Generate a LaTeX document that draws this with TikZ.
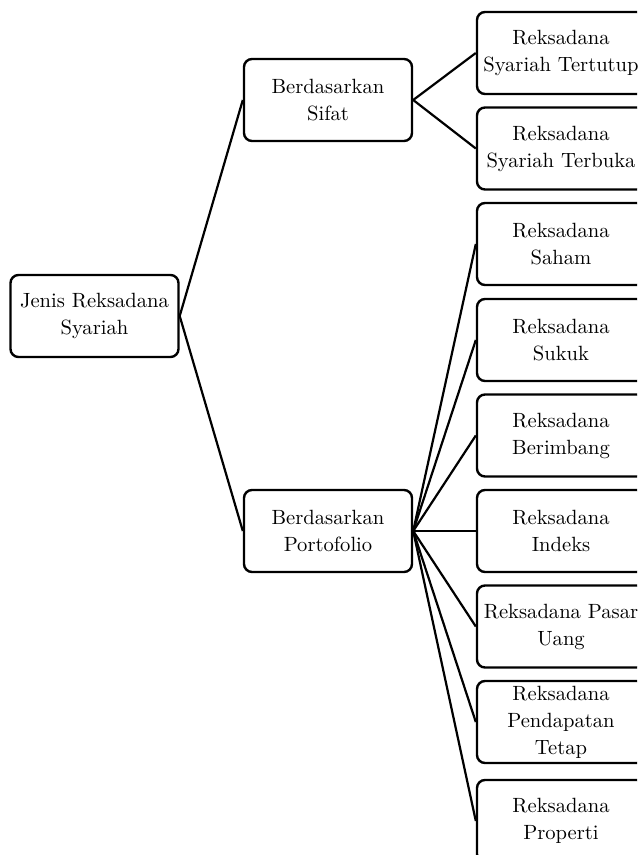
\documentclass[tikz,border=0pt]{standalone}
\usepackage{tikz}
\usetikzlibrary{positioning, calc}

\begin{document}
\begin{tikzpicture}[x=0.5pt, y=-0.5pt,
	kotak/.style={draw, line width=1.2pt, rounded corners=4pt, minimum width=84pt,
		minimum height=41pt, inner sep=2pt, align=center,
		font=\fontsize{10.3}{13.5}\selectfont},
	garis/.style={line width=1.1pt}]
	\useasboundingbox (0,0) rectangle (637,855);
	\clip (0,0) rectangle (637,855);
	% akar dan dua cabang
	\node[kotak] (jenis) at (94.5,316) {Jenis Reksadana\\Syariah};
	\node[kotak] (sifat) at (328,100) {Berdasarkan\\Sifat};
	\node[kotak] (porto) at (328,531) {Berdasarkan\\Portofolio};
	\draw[garis] (jenis.east) -- (sifat.west);
	\draw[garis] (jenis.east) -- (porto.west);
	% berdasarkan sifat
	\node[kotak] (tertutup) at (561,53) {Reksadana\\Syariah Tertutup};
	\node[kotak] (terbuka) at (561,148.5) {Reksadana\\Syariah Terbuka};
	\draw[garis] (sifat.east) -- (tertutup.west);
	\draw[garis] (sifat.east) -- (terbuka.west);
	% berdasarkan portofolio
	\foreach \nama/\y/\isi in {saham/244/{Reksadana\\Saham},
		sukuk/340/{Reksadana\\Sukuk},
		berimbang/435.5/{Reksadana\\Berimbang},
		indeks/531/{Reksadana\\Indeks},
		pasar/626.5/{Reksadana Pasar\\Uang},
		tetap/722/{Reksadana\\Pendapatan\\Tetap},
		properti/821/{Reksadana\\Properti}}{
		\node[kotak] (\nama) at (561,\y) {\isi};
		\draw[garis] (porto.east) -- (\nama.west);
	}
\end{tikzpicture}
\end{document}
